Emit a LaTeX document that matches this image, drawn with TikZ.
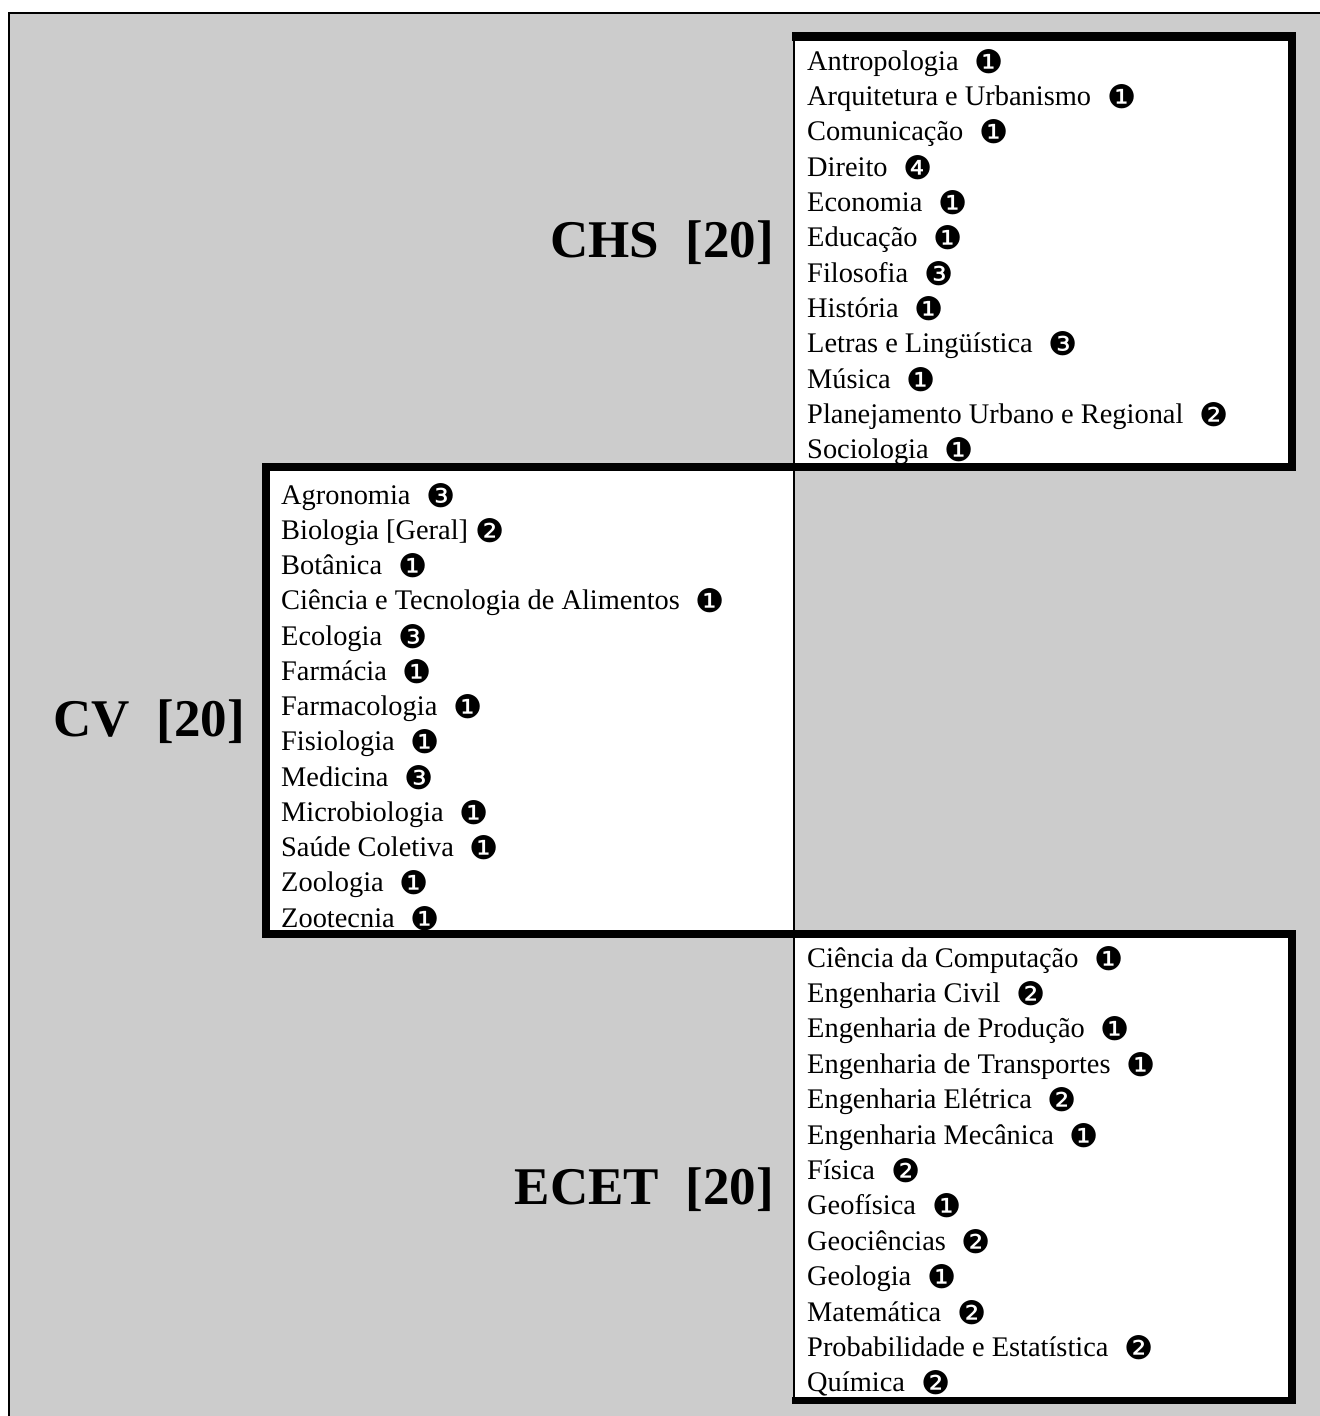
\documentclass[tikz,border=0pt]{standalone}
\usepackage{fontspec}
\setmainfont{Liberation Serif}
\newfontfamily\dingfont{DejaVu Sans}
\definecolor{bggray}{HTML}{CCCCCC}
\newcommand\badge[2][16bp]{\hspace{#1}\raisebox{-3bp}{\dingfont\fontsize{32.5bp}{32.5bp}\selectfont #2}}
\begin{document}
\begin{tikzpicture}[x=1bp,y=-1bp,
  listitem/.style={anchor=base west, inner sep=0pt, font=\fontsize{28.4bp}{35bp}\selectfont},
  grouplabel/.style={anchor=base east, inner sep=0pt, font=\fontsize{53bp}{60bp}\selectfont\bfseries},
  boxfill/.style={fill=white},
  rule/.style={fill=black}]
\useasboundingbox (0,0) rectangle (1320,1416);
\clip (0,0) rectangle (1320,1416);
\fill[white] (0,0) rectangle (1320,1416);
\filldraw[fill=bggray, draw=black, line width=2.5bp] (9,13.2) rectangle (1340,1440);
% white interiors
\fill[boxfill] (795,41) rectangle (1288,463);
\fill[boxfill] (270,471) rectangle (793,930);
\fill[boxfill] (795,938) rectangle (1288,1397);
% borders
\fill[rule] (792,32) rectangle (1296,41);
\fill[rule] (1288,32) rectangle (1296,471);
\fill[rule] (262,463) rectangle (1296,471);
\fill[rule] (792.5,32) rectangle (795,1404);
\fill[rule] (262,463) rectangle (270,938);
\fill[rule] (262,930) rectangle (1296,938);
\fill[rule] (1288,930) rectangle (1296,1404);
\fill[rule] (792,1397) rectangle (1296,1404);
% group labels
\node[grouplabel] (chs) at (774,258) {CHS~~[20]};
\node[grouplabel] (cv) at (245,736) {CV~~[20]};
\node[grouplabel] (ecet) at (774,1204) {ECET~~[20]};
% CHS list
\foreach \t [count=\i from 0] in {
  Antropologia\badge{❶},
  Arquitetura e Urbanismo\badge{❶},
  Comunicação\badge{❶},
  Direito\badge{❹},
  Economia\badge{❶},
  Educação\badge{❶},
  Filosofia\badge{❸},
  História\badge{❶},
  Letras e Lingüística\badge{❸},
  Música\badge{❶},
  Planejamento Urbano e Regional\badge{❷},
  Sociologia\badge{❶}}
  \node[listitem] (chs\i) at (807,{70.3+35.3*\i}) {\t};
% CV list
\foreach \t [count=\i from 0] in {
  Agronomia\badge{❸},
  Biologia [Geral]\badge[7bp]{❷},
  Botânica\badge{❶},
  Ciência e Tecnologia de Alimentos\badge{❶},
  Ecologia\badge{❸},
  Farmácia\badge{❶},
  Farmacologia\badge{❶},
  Fisiologia\badge{❶},
  Medicina\badge{❸},
  Microbiologia\badge{❶},
  Saúde Coletiva\badge{❶},
  Zoologia\badge{❶},
  Zootecnia\badge{❶}}
  \node[listitem] (cv\i) at (281,{504+35.25*\i}) {\t};
% ECET list
\foreach \t [count=\i from 0] in {
  Ciência da Computação\badge{❶},
  Engenharia Civil\badge{❷},
  Engenharia de Produção\badge{❶},
  Engenharia de Transportes\badge{❶},
  Engenharia Elétrica\badge{❷},
  Engenharia Mecânica\badge{❶},
  Física\badge{❷},
  Geofísica\badge{❶},
  Geociências\badge{❷},
  Geologia\badge{❶},
  Matemática\badge{❷},
  Probabilidade e Estatística\badge{❷},
  Química\badge{❷}}
  \node[listitem] (ecet\i) at (807,{967+35.4*\i}) {\t};
\end{tikzpicture}
\end{document}
